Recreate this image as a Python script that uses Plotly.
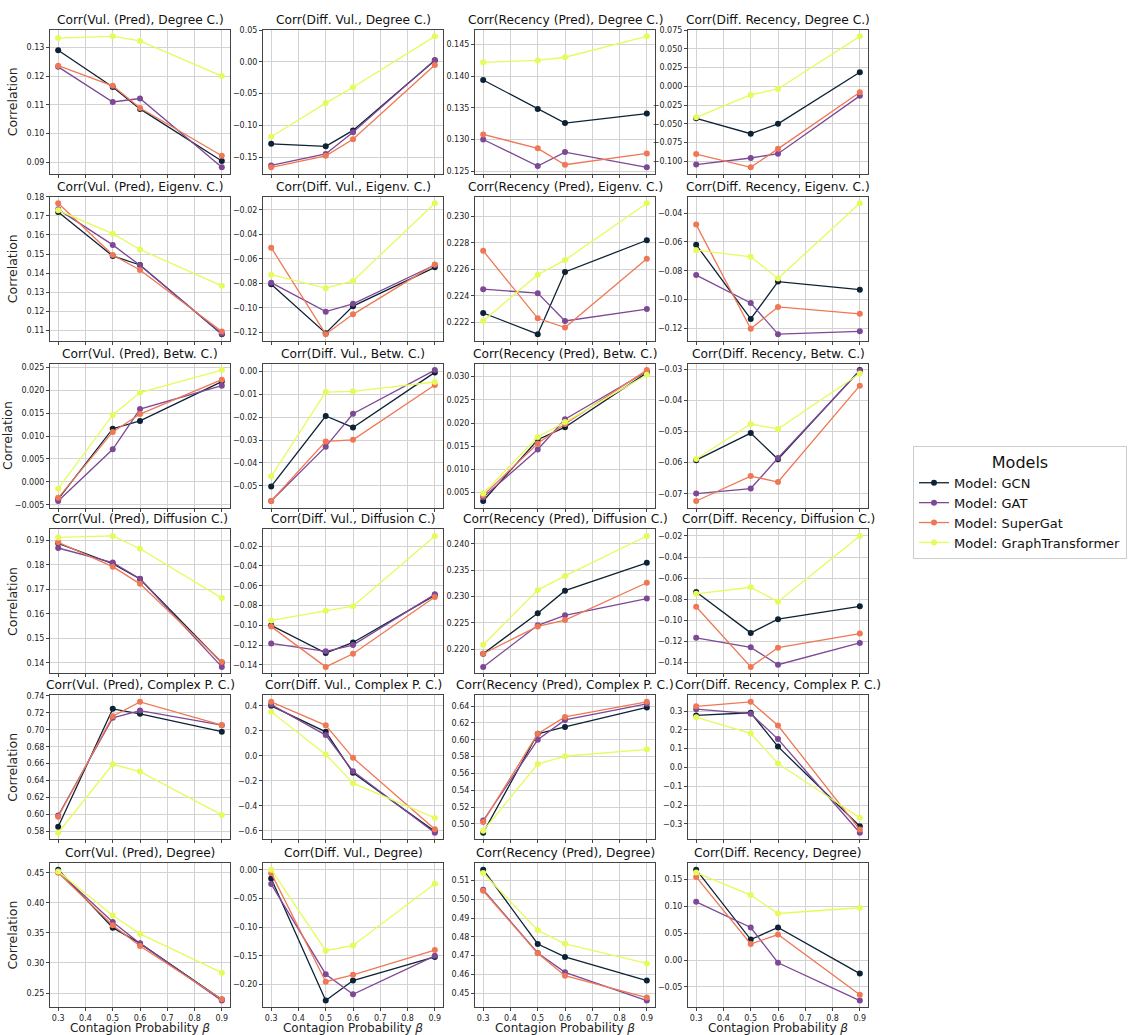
import plotly.graph_objects as go

beta = [0.3, 0.5, 0.6, 0.9]
models = ["Model: GCN", "Model: GAT", "Model: SuperGat", "Model: GraphTransformer"]
colors = ["#0d2235", "#7d4896", "#ef7755", "#e6fb5a"]

titles = [
    "Corr(Vul. (Pred), Degree C.)", "Corr(Diff. Vul., Degree C.)", "Corr(Recency (Pred), Degree C.)", "Corr(Diff. Recency, Degree C.)",
    "Corr(Vul. (Pred), Eigenv. C.)", "Corr(Diff. Vul., Eigenv. C.)", "Corr(Recency (Pred), Eigenv. C.)", "Corr(Diff. Recency, Eigenv. C.)",
    "Corr(Vul. (Pred), Betw. C.)", "Corr(Diff. Vul., Betw. C.)", "Corr(Recency (Pred), Betw. C.)", "Corr(Diff. Recency, Betw. C.)",
    "Corr(Vul. (Pred), Diffusion C.)", "Corr(Diff. Vul., Diffusion C.)", "Corr(Recency (Pred), Diffusion C.)", "Corr(Diff. Recency, Diffusion C.)",
    "Corr(Vul. (Pred), Complex P. C.)", "Corr(Diff. Vul., Complex P. C.)", "Corr(Recency (Pred), Complex P. C.)", "Corr(Diff. Recency, Complex P. C.)",
    "Corr(Vul. (Pred), Degree)", "Corr(Diff. Vul., Degree)", "Corr(Recency (Pred), Degree)", "Corr(Diff. Recency, Degree)",
]

gcn = [
    [0.1290, 0.1162, 0.1086, 0.0905], [-0.129, -0.133, -0.108, 0.002], [0.1394, 0.1348, 0.1326, 0.1341], [-0.0426, -0.0632, -0.0500, 0.0189],
    [0.1720, 0.1490, 0.1443, 0.1081], [-0.0808, -0.1208, -0.0987, -0.0670], [0.2227, 0.2211, 0.2258, 0.2282], [-0.0620, -0.1134, -0.0875, -0.0931],
    [-0.0038, 0.0116, 0.0133, 0.0219], [-0.0503, -0.0195, -0.0245, -0.0004], [0.0032, 0.0164, 0.0191, 0.0308], [-0.0592, -0.0505, -0.0589, -0.0303],
    [0.1887, 0.1804, 0.1742, 0.1401], [-0.1000, -0.1280, -0.1173, -0.0697], [0.2191, 0.2268, 0.2311, 0.2364], [-0.0730, -0.1118, -0.0988, -0.0866],
    [0.5855, 0.7247, 0.7188, 0.6977], [0.400, 0.192, -0.135, -0.605], [0.4894, 0.6071, 0.6153, 0.6384], [0.277, 0.291, 0.111, -0.312],
    [0.4550, 0.3587, 0.3325, 0.2391], [-0.0152, -0.2280, -0.1930, -0.1520], [0.5158, 0.4762, 0.4693, 0.4567], [0.1684, 0.0383, 0.0607, -0.0252],
]
gat = [
    [0.1232, 0.1110, 0.1122, 0.0883], [-0.163, -0.145, -0.111, 0.003], [0.1300, 0.1258, 0.1280, 0.1256], [-0.1044, -0.0956, -0.0899, -0.0127],
    [0.1734, 0.1548, 0.1441, 0.1083], [-0.0795, -0.1032, -0.0968, -0.0651], [0.2245, 0.2242, 0.2221, 0.2230], [-0.0830, -0.1023, -0.1239, -0.1219],
    [-0.0042, 0.0071, 0.0159, 0.0210], [-0.0567, -0.0329, -0.0185, 0.0006], [0.0040, 0.0143, 0.0208, 0.0311], [-0.0699, -0.0683, -0.0585, -0.0305],
    [0.1868, 0.1809, 0.1743, 0.1384], [-0.1183, -0.1263, -0.1200, -0.0687], [0.2166, 0.2245, 0.2264, 0.2296], [-0.1165, -0.1255, -0.1419, -0.1213],
    [0.5988, 0.7141, 0.7227, 0.7055], [0.410, 0.166, -0.124, -0.616], [0.5039, 0.6000, 0.6236, 0.6427], [0.310, 0.286, 0.151, -0.347],
    [0.4522, 0.3680, 0.3325, 0.2374], [-0.0250, -0.1820, -0.2170, -0.1500], [0.5051, 0.4714, 0.4611, 0.4460], [0.1086, 0.0607, -0.0049, -0.0755],
]
supergat = [
    [0.1236, 0.1166, 0.1089, 0.0923], [-0.166, -0.148, -0.122, -0.005], [0.1308, 0.1286, 0.1260, 0.1278], [-0.0904, -0.1080, -0.0834, -0.0079],
    [0.1766, 0.1495, 0.1417, 0.1095], [-0.0509, -0.1216, -0.1054, -0.0646], [0.2274, 0.2223, 0.2216, 0.2268], [-0.0480, -0.1202, -0.1050, -0.1098],
    [-0.0035, 0.0109, 0.0148, 0.0223], [-0.0567, -0.0306, -0.0299, -0.0059], [0.0044, 0.0156, 0.0198, 0.0314], [-0.0723, -0.0643, -0.0662, -0.0353],
    [0.1891, 0.1792, 0.1722, 0.1404], [-0.1013, -0.1420, -0.1287, -0.0713], [0.2191, 0.2243, 0.2255, 0.2326], [-0.0870, -0.1440, -0.1258, -0.1124],
    [0.5973, 0.7161, 0.7330, 0.7055], [0.432, 0.244, -0.016, -0.587], [0.5023, 0.6071, 0.6271, 0.6451], [0.325, 0.349, 0.223, -0.330],
    [0.4500, 0.3626, 0.3281, 0.2396], [-0.0060, -0.1950, -0.1830, -0.1400], [0.5046, 0.4712, 0.4593, 0.4476], [0.1550, 0.0300, 0.0475, -0.0644],
]
graphtransformer = [
    [0.1332, 0.1338, 0.1322, 0.1200], [-0.118, -0.065, -0.040, 0.040], [0.1422, 0.1425, 0.1430, 0.1463], [-0.0413, -0.0114, -0.0035, 0.0667],
    [0.1729, 0.1607, 0.1524, 0.1334], [-0.0730, -0.0840, -0.0781, -0.0146], [0.2221, 0.2256, 0.2267, 0.2310], [-0.0657, -0.0703, -0.0853, -0.0332],
    [-0.0015, 0.0146, 0.0195, 0.0244], [-0.0459, -0.0090, -0.0087, -0.0046], [0.0048, 0.0170, 0.0202, 0.0304], [-0.0588, -0.0476, -0.0492, -0.0314],
    [0.1911, 0.1917, 0.1865, 0.1664], [-0.0950, -0.0853, -0.0807, -0.0097], [0.2208, 0.2312, 0.2339, 0.2415], [-0.0748, -0.0686, -0.0822, -0.0200],
    [0.5784, 0.6592, 0.6506, 0.5995], [0.352, 0.011, -0.219, -0.497], [0.4917, 0.5711, 0.5804, 0.5886], [0.267, 0.181, 0.021, -0.267],
    [0.4522, 0.3790, 0.3484, 0.2839], [0.0000, -0.1410, -0.1320, -0.0245], [0.5140, 0.4835, 0.4763, 0.4658], [0.1630, 0.1212, 0.0868, 0.0975],
]
series = [gcn, gat, supergat, graphtransformer]

# tick steps and formats per panel (style)
dticks = [0.01, 0.05, 0.005, 0.025,
          0.01, 0.02, 0.002, 0.02,
          0.005, 0.01, 0.005, 0.01,
          0.01, 0.02, 0.005, 0.02,
          0.02, 0.2, 0.02, 0.1,
          0.05, 0.05, 0.01, 0.05]
tfmts = [".2f", ".2f", ".3f", ".3f",
         ".2f", ".2f", ".3f", ".2f",
         ".3f", ".2f", ".3f", ".2f",
         ".2f", ".2f", ".3f", ".2f",
         ".2f", ".1f", ".2f", ".1f",
         ".2f", ".2f", ".2f", ".2f"]

W, H = 1131, 1035
col_left = [50, 263, 475, 688]
plot_w = 180
row_top = [26, 194, 362, 529, 696, 865]
plot_h = 145

FONT = "DejaVu Sans"
fig = go.Figure()
layout = dict(
    width=W, height=H, margin=dict(l=0, r=0, t=0, b=0),
    paper_bgcolor="white", plot_bgcolor="white",
    font=dict(family=FONT, color="#222"),
    showlegend=True,
    annotations=[],
)

for k in range(24):
    r, c = divmod(k, 4)
    ax = k + 1
    xname = "x" if ax == 1 else f"x{ax}"
    yname = "y" if ax == 1 else f"y{ax}"
    for m in range(4):
        fig.add_trace(go.Scatter(
            x=beta, y=series[m][k], mode="lines+markers", name=models[m],
            line=dict(color=colors[m], width=1.3),
            marker=dict(color=colors[m], size=6),
            xaxis=xname, yaxis=yname, showlegend=(k == 0), legendgroup=models[m],
        ))
    vals = [v for s in series for v in s[k]]
    lo, hi = min(vals), max(vals)
    pad = (hi - lo) * 0.05
    x0 = col_left[c] / W
    x1 = (col_left[c] + plot_w) / W
    y1 = 1 - row_top[r] / H
    y0 = 1 - (row_top[r] + plot_h) / H
    common = dict(showline=True, mirror=True, linecolor="#444", linewidth=1,
                  showgrid=True, gridcolor="#d3d3d3", gridwidth=0.8,
                  ticks="outside", ticklen=3, tickcolor="#444", zeroline=False,
                  tickfont=dict(size=8, family=FONT, color="#222"))
    xa = dict(domain=[x0, x1], anchor=yname, range=[0.27, 0.93],
              tickmode="linear", tick0=0.3, dtick=0.1, tickformat=".1f",
              showticklabels=(r == 5), **common)
    if r == 5:
        xa["title"] = dict(text="Contagion Probability <i>β</i>", font=dict(size=12, family=FONT), standoff=4)
    ya = dict(domain=[y0, y1], anchor=xname, range=[lo - pad, hi + pad],
              tickmode="linear", tick0=0, dtick=dticks[k], tickformat=tfmts[k], **common)
    if c == 0:
        ya["title"] = dict(text="Correlation", font=dict(size=12.5, family=FONT), standoff=6)
    layout["xaxis" if ax == 1 else f"xaxis{ax}"] = xa
    layout["yaxis" if ax == 1 else f"yaxis{ax}"] = ya
    layout["annotations"].append(dict(
        text=titles[k], x=(x0 + x1) / 2, y=y1, xref="paper", yref="paper",
        xanchor="center", yanchor="bottom", yshift=1, showarrow=False,
        font=dict(size=12.2, family=FONT, color="#111"),
    ))

layout["legend"] = dict(
    x=913 / W, y=1 - 445 / H, xanchor="left", yanchor="top",
    title=dict(text="Models", font=dict(size=16, family=FONT), side="top center"),
    font=dict(size=13, family=FONT, color="#111"),
    bordercolor="#cccccc", borderwidth=1, bgcolor="white",
    itemwidth=30, tracegroupgap=0,
)
fig.update_layout(**layout)
fig.write_html("out.html")
